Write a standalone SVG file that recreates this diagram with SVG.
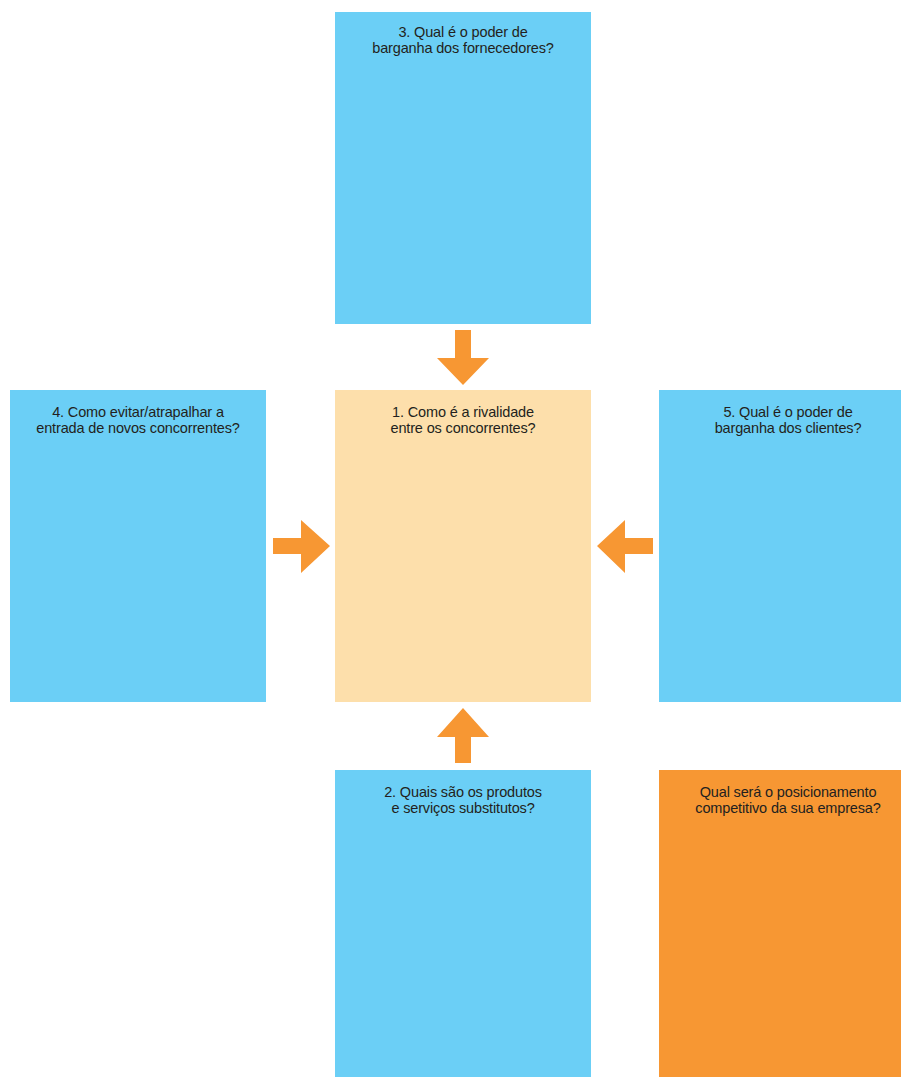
<svg xmlns="http://www.w3.org/2000/svg" width="901" height="1077" viewBox="0 0 901 1077">
<style>
.blue{fill:#6BCFF6}
.peach{fill:#FDDFAB}
.orange{fill:#F79733}
.arrow{fill:#F79733}
text{font-family:"Liberation Sans",Arial,sans-serif;font-size:14.5px;fill:#231F20;text-anchor:middle;letter-spacing:-0.15px}
</style>
<rect width="901" height="1077" fill="#FFFFFF"/>
<g id="node-3">
<rect class="blue" x="335" y="12" width="256" height="312"/>
<text x="463" y="37">3. Qual é o poder de</text>
<text x="463" y="53">barganha dos fornecedores?</text>
</g>
<g id="node-4">
<rect class="blue" x="10" y="390" width="256" height="312"/>
<text x="138" y="417">4. Como evitar/atrapalhar a</text>
<text x="138" y="433">entrada de novos concorrentes?</text>
</g>
<g id="node-1">
<rect class="peach" x="335" y="390" width="256" height="312"/>
<text x="463" y="417">1. Como é a rivalidade</text>
<text x="463" y="433">entre os concorrentes?</text>
</g>
<g id="node-5">
<rect class="blue" x="659" y="390" width="242" height="312"/>
<text x="788" y="417">5. Qual é o poder de</text>
<text x="788" y="433">barganha dos clientes?</text>
</g>
<g id="node-2">
<rect class="blue" x="335" y="770" width="256" height="307"/>
<text x="463" y="797">2. Quais são os produtos</text>
<text x="463" y="813">e serviços substitutos?</text>
</g>
<g id="node-pos">
<rect class="orange" x="659" y="770" width="242" height="307"/>
<text x="788" y="797">Qual será o posicionamento</text>
<text x="788" y="813">competitivo da sua empresa?</text>
</g>
<g id="connectors">
<polygon class="arrow" points="455,330 471,330 471,358 489,358 463,385 437,358 455,358"/>
<polygon class="arrow" points="273,538 301,538 301,520 330,546 301,573 301,554 273,554"/>
<polygon class="arrow" points="653,538 625,538 625,520 597,546 625,573 625,554 653,554"/>
<polygon class="arrow" points="455,763 471,763 471,737 489,737 463,708 437,737 455,737"/>
</g>
</svg>
